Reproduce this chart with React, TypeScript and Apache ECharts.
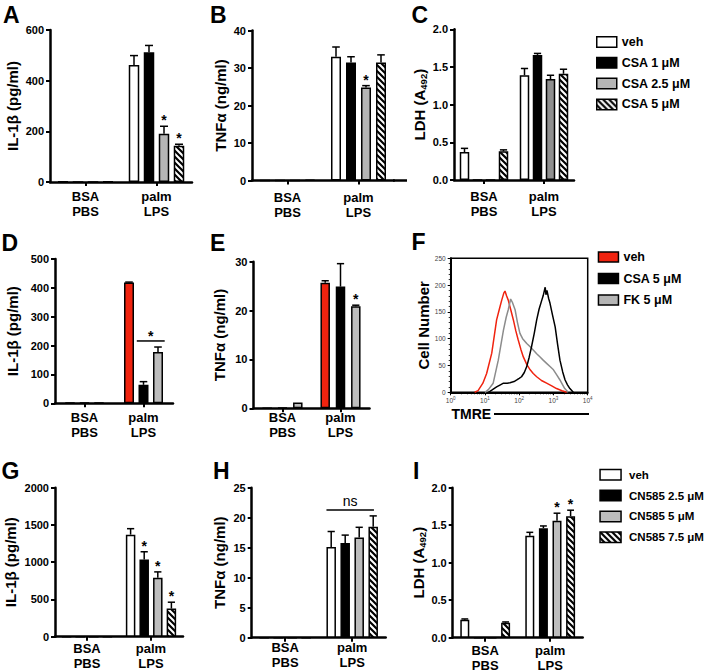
import React, { useEffect, useRef } from 'react';
import * as echarts from 'echarts';

const FONT = "'Liberation Sans', Arial, Helvetica, sans-serif";

// ---------- categories & names ----------
const cats = ['BSA\nPBS', 'palm\nLPS'];
const csaNames = ['veh', 'CSA 1 μM', 'CSA 2.5 μM', 'CSA 5 μM'];
const fkNames = ['veh', 'CSA 5 μM', 'FK 5 μM'];
const cnNames = ['veh', 'CN585 2.5 μM', 'CN585 5 μM', 'CN585 7.5 μM'];

// ---------- data: [BSA, palm] per treatment ----------
// A: IL-1β (pg/ml), CSA
const aMean = [[2, 462], [0, 512], [0, 190], [2, 143]];
const aErr = [[0, 37], [0, 27], [0, 30], [0, 6]];
const aStar = [[0, 0], [0, 0], [0, 1], [0, 1]];
// B: TNFα (ng/ml), CSA
const bMean = [[0, 33], [0, 31.5], [0, 24.8], [0.2, 31.5]];
const bErr = [[0, 2.6], [0, 1.5], [0, 0.5], [0, 2]];
const bStar = [[0, 0], [0, 0], [0, 1], [0, 0]];
// C: LDH (A492), CSA
const cMean = [[0.37, 1.39], [0, 1.66], [0, 1.34], [0.38, 1.41]];
const cErr = [[0.05, 0.09], [0, 0.02], [0, 0.05], [0.02, 0.06]];
const cStar = [[0, 0], [0, 0], [0, 0], [0, 0]];
// D: IL-1β (pg/ml), veh / CSA 5 / FK 5
const dMean = [[2, 419], [2, 64], [2, 178]];
const dErr = [[0, 1], [0, 11], [0, 17]];
const dStar = [[0, 0], [0, 0], [0, 0]];
const dSig = [[1, 1, 2, 216]];
// E: TNFα (ng/ml), veh / CSA 5 / FK 5
const eMean = [[0, 25.7], [0.1, 24.9], [1.2, 20.9]];
const eErr = [[0, 0.4], [0, 4.7], [0, 0.2]];
const eStar = [[0, 0], [0, 0], [0, 1]];
// F: TMRE histograms [fluorescence, cell number]
const fVeh = [[5, 0], [6.3, 3], [8.7, 17], [11.2, 35], [15.8, 73], [21.9, 135], [26.3, 155], [30.9, 172], [35.5, 185], [38.5, 189], [42.7, 180], [47.9, 172], [56.2, 155], [67.6, 135], [79.4, 115], [93.3, 98], [112, 80], [132, 66], [166, 52], [209, 42], [257, 35], [324, 29], [447, 22], [631, 17], [891, 12], [1230, 7], [1778, 3], [2455, 0]];
const fCsa = [[12.6, 0], [15.8, 4], [21.9, 10], [28.2, 14], [34.7, 17], [44.7, 17], [53.7, 18], [70.8, 20], [85.1, 23], [100, 26], [117, 29], [141, 37], [166, 48], [195, 65], [229, 85], [275, 110], [324, 135], [380, 155], [457, 172], [501, 180], [562, 194], [575, 196], [603, 182], [646, 190], [724, 175], [794, 166], [933, 145], [1122, 122], [1318, 90], [1549, 60], [1862, 38], [2188, 23], [2570, 14], [3020, 7], [3802, 0]];
const fFk = [[10, 0], [12.6, 5], [17.4, 17], [24.5, 60], [29.5, 90], [34.7, 116], [41.7, 140], [47.9, 154], [56.2, 174], [63.1, 168], [75.9, 154], [89.1, 130], [105, 110], [126, 100], [166, 91], [209, 85], [257, 79], [324, 72], [407, 66], [501, 60], [631, 54], [794, 48], [1000, 42], [1259, 32], [1549, 23], [1820, 15], [2138, 7], [2692, 0]];
const fXTicks = [1, 10, 100, 1000, 10000];
// G: IL-1β (pg/ml), CN585
const gMean = [[0, 1370], [0, 1035], [0, 790], [0, 378]];
const gErr = [[0, 80], [0, 105], [0, 80], [0, 85]];
const gStar = [[0, 0], [0, 1], [0, 1], [0, 1]];
// H: TNFα (ng/ml), CN585
const hMean = [[0, 15.1], [0, 15.8], [0, 16.7], [0, 18.5]];
const hErr = [[0, 2.6], [0, 1.3], [0, 1.7], [0, 1.8]];
const hStar = [[0, 0], [0, 0], [0, 0], [0, 0]];
const hSig = [[1, 0, 3, 21.3]];
// I: LDH (A492), CN585
const iMean = [[0.24, 1.36], [0, 1.46], [0, 1.56], [0.2, 1.62]];
const iErr = [[0.01, 0.045], [0, 0.03], [0, 0.1], [0.01, 0.08]];
const iStar = [[0, 0], [0, 0], [0, 1], [0, 1]];

// ---------- styling ----------
const RED = '#f0230f';

function makeHatch(): any {
  const s = 6;
  const c = document.createElement('canvas');
  c.width = s;
  c.height = s;
  const ctx = c.getContext('2d') as CanvasRenderingContext2D;
  ctx.fillStyle = '#fff';
  ctx.fillRect(0, 0, s, s);
  ctx.strokeStyle = '#000';
  ctx.lineWidth = 2.2;
  ctx.beginPath();
  [-s, 0, s].forEach((k) => {
    ctx.moveTo(k - 1, -1);
    ctx.lineTo(k + s + 1, s + 1);
  });
  ctx.stroke();
  return { image: c, repeat: 'repeat', imageWidth: s, imageHeight: s };
}

const panels: any[] = [
  { id: 'A', left: 50, top: 30, width: 142, height: 152, max: 600, interval: 200, yName: 'IL-1β (pg/ml)', nameGap: 13, xMargin: 7, w: 10.5, pitch: 15, mean: aMean, err: aErr, star: aStar, names: csaNames, suffix: '', colors: ['#fff', '#000', '#b5b5b5', '#fff'], hatchIdx: 3 },
  { id: 'B', left: 252, top: 30.5, width: 142, height: 150, max: 40, interval: 10, yName: 'TNFα (ng/ml)', nameGap: 22, xMargin: 9, w: 10, pitch: 15, mean: bMean, err: bErr, star: bStar, names: csaNames, suffix: '#B', colors: ['#fff', '#000', '#b5b5b5', '#fff'], hatchIdx: 3 },
  { id: 'C', left: 454, top: 29.3, width: 120, height: 150.7, max: 2, interval: 0.5, yName: 'LDH (A{sub|492})', nameGap: 21, xMargin: 9, w: 9.5, pitch: 13, mean: cMean, err: cErr, star: cStar, names: csaNames, suffix: '#C', colors: ['#fff', '#000', '#8f8f8f', '#fff'], hatchIdx: 3, dec: 1 },
  { id: 'D', left: 55, top: 259, width: 118, height: 144.3, max: 500, interval: 100, yName: 'IL-1β (pg/ml)', nameGap: 34, xMargin: 7, w: 10, pitch: 14.5, mean: dMean, err: dErr, star: dStar, names: fkNames, suffix: '#D', colors: [RED, '#000', '#bdbdbd'], hatchIdx: -1, sig: dSig, sigText: '*', sigPad: [1.7, 1.7] },
  { id: 'E', left: 253.5, top: 261.7, width: 116, height: 146.6, max: 30, interval: 10, yName: 'TNFα (ng/ml)', nameGap: 25, xMargin: 2, w: 9.5, pitch: 15.3, mean: eMean, err: eErr, star: eStar, names: fkNames, suffix: '#E', colors: [RED, '#000', '#bdbdbd'], hatchIdx: -1 },
  { id: 'F' },
  { id: 'G', left: 55, top: 487.7, width: 128, height: 149, max: 2000, interval: 500, yName: 'IL-1β (pg/ml)', nameGap: 36, xMargin: 4, w: 9.5, pitch: 13.6, mean: gMean, err: gErr, star: gStar, names: cnNames, suffix: '#G', colors: ['#fff', '#000', '#bdbdbd', '#fff'], hatchIdx: 3 },
  { id: 'H', left: 251.7, top: 487.7, width: 134, height: 150, max: 25, interval: 5, yName: 'TNFα (ng/ml)', nameGap: 23.5, xMargin: 2, w: 9.5, pitch: 14, mean: hMean, err: hErr, star: hStar, names: cnNames, suffix: '#H', colors: ['#fff', '#000', '#bdbdbd', '#fff'], hatchIdx: 3, sig: hSig, sigText: 'ns', sigPad: [0, -4] },
  { id: 'I', left: 452.7, top: 487.7, width: 130, height: 150, max: 2, interval: 0.5, yName: 'LDH (A{sub|492})', nameGap: 21, xMargin: 5, w: 9, pitch: 13.6, mean: iMean, err: iErr, star: iStar, names: cnNames, suffix: '#I', colors: ['#fff', '#000', '#bdbdbd', '#fff'], hatchIdx: 3, dec: 1 },
];

const F_GRID = { left: 450.7, top: 258.3, width: 137, height: 134 };

function errRenderer(n: number, w: number, pitch: number) {
  return (params: any, api: any) => {
    const cat = api.value(0), bi = api.value(1), v = api.value(2), e = api.value(3), star = api.value(4);
    const base = api.coord([cat, v]);
    const x = base[0] + (bi - (n - 1) / 2) * pitch;
    const top = api.coord([cat, v + e])[1];
    const children: any[] = [];
    if (e > 0) {
      children.push({ type: 'line', shape: { x1: x, y1: base[1], x2: x, y2: top }, style: { stroke: '#000', lineWidth: 1.5 } });
      children.push({ type: 'line', shape: { x1: x - w * 0.38, y1: top, x2: x + w * 0.38, y2: top }, style: { stroke: '#000', lineWidth: 1.5 } });
    }
    if (star) {
      children.push({ type: 'text', style: { text: '*', x, y: top - 6, align: 'center', verticalAlign: 'middle', font: `bold 14px ${FONT}`, fill: '#000' } });
    }
    return { type: 'group', children };
  };
}

function sigRenderer(n: number, w: number, pitch: number, label: string, pad: number[]) {
  return (params: any, api: any) => {
    const cat = api.value(0), b0 = api.value(1), b1 = api.value(2), v = api.value(3);
    const c = api.coord([cat, v]);
    const x0 = c[0] + (b0 - (n - 1) / 2) * pitch - w / 2 - pad[0];
    const x1 = c[0] + (b1 - (n - 1) / 2) * pitch + w / 2 + pad[1];
    const isStar = label === '*';
    return {
      type: 'group',
      children: [
        { type: 'line', shape: { x1: x0, y1: c[1], x2: x1, y2: c[1] }, style: { stroke: '#000', lineWidth: 1.5 } },
        {
          type: 'text',
          style: isStar
            ? { text: label, x: (x0 + x1) / 2, y: c[1] - 5, align: 'center', verticalAlign: 'middle', font: `bold 14px ${FONT}`, fill: '#000' }
            : { text: label, x: (x0 + x1) / 2, y: c[1] - 1.5, align: 'center', verticalAlign: 'bottom', font: `14px ${FONT}`, fill: '#000' },
        },
      ],
    };
  };
}

function buildOption() {
  const hatch = makeHatch();
  const grid: any[] = [];
  const xAxis: any[] = [];
  const yAxis: any[] = [];
  const series: any[] = [];

  panels.forEach((p, gi) => {
    if (p.id === 'F') {
      grid.push({ ...F_GRID, show: true, borderColor: '#000', borderWidth: 1.5, backgroundColor: 'transparent', outerBoundsMode: 'none', containLabel: false });
      xAxis.push({
        type: 'log', gridIndex: gi, min: fXTicks[0], max: fXTicks[fXTicks.length - 1], logBase: 10,
        axisLine: { show: true, lineStyle: { color: '#000', width: 2 } },
        axisTick: { show: true, length: 3, lineStyle: { color: '#000', width: 1 } },
        minorTick: { show: true, splitNumber: 9, length: 2, lineStyle: { color: '#000', width: 0.8 } },
        axisLabel: {
          color: '#444', fontSize: 6.5, margin: 4, fontFamily: FONT,
          formatter: (v: number) => '10{s|' + Math.round(Math.log10(v)) + '}',
          rich: { s: { fontSize: 4.5, verticalAlign: 'top', color: '#444', padding: [0, 0, 4, 0] } },
        },
        splitLine: { show: false },
      });
      yAxis.push({
        type: 'value', gridIndex: gi, min: 0, max: 250, interval: 50,
        axisLine: { show: true, lineStyle: { color: '#000', width: 2 } },
        axisTick: { show: true, length: 3, lineStyle: { color: '#000', width: 1 } },
        minorTick: { show: true, splitNumber: 5, length: 2, lineStyle: { color: '#000', width: 0.8 } },
        axisLabel: { color: '#444', fontSize: 6.5, margin: 5, fontFamily: FONT, formatter: (v: number) => String(v) },
        splitLine: { show: false },
        name: 'Cell Number', nameLocation: 'middle', nameGap: 17,
        nameTextStyle: { fontWeight: 'bold', fontSize: 15, color: '#000', fontFamily: FONT },
      });
      const lines = [
        { name: 'veh#F', data: fVeh, color: RED },
        { name: 'FK 5 μM#F', data: fFk, color: '#8c8c8c' },
        { name: 'CSA 5 μM#F', data: fCsa, color: '#000' },
      ];
      lines.forEach((l) => {
        series.push({
          type: 'line', name: l.name, xAxisIndex: gi, yAxisIndex: gi, data: l.data,
          showSymbol: false, symbol: 'none', lineStyle: { color: l.color, width: 1.5 }, itemStyle: { color: l.color }, z: 3,
        });
      });
      return;
    }
    grid.push({ left: p.left, top: p.top, width: p.width, height: p.height, outerBoundsMode: 'none', containLabel: false });
    xAxis.push({
      type: 'category', gridIndex: gi, data: cats,
      axisLine: { show: true, lineStyle: { color: '#000', width: 2.5 } },
      axisTick: { show: true, alignWithLabel: true, length: 4, lineStyle: { color: '#000', width: 2 } },
      axisLabel: { interval: 0, fontFamily: FONT, fontWeight: 'bold', fontSize: 13, lineHeight: 15, color: '#000', margin: p.xMargin },
      splitLine: { show: false },
    });
    yAxis.push({
      type: 'value', gridIndex: gi, min: 0, max: p.max, interval: p.interval,
      axisLine: { show: true, lineStyle: { color: '#000', width: 2.5 } },
      axisTick: { show: true, length: 4, lineStyle: { color: '#000', width: 2 } },
      axisLabel: {
        fontFamily: FONT, fontWeight: 'bold', fontSize: 11, color: '#000', margin: 6,
        formatter: p.dec ? (v: number) => v.toFixed(p.dec) : (v: number) => String(v),
      },
      splitLine: { show: false },
      name: p.yName, nameLocation: 'middle', nameGap: p.nameGap,
      nameTextStyle: {
        fontFamily: FONT, fontWeight: 'bold', fontSize: 15, color: '#000', lineHeight: 18,
        rich: { sub: { fontFamily: FONT, fontWeight: 'bold', fontSize: 9.5, color: '#000', verticalAlign: 'bottom', lineHeight: 18, padding: [0, 0, 0, 0] } },
      },
    });
    const n = p.mean.length;
    p.mean.forEach((vals: number[], k: number) => {
      const style: any = { color: k === p.hatchIdx ? hatch : p.colors[k], borderColor: '#000', borderWidth: 1.5 };
      series.push({
        type: 'bar', name: p.names[k] + p.suffix, xAxisIndex: gi, yAxisIndex: gi, data: vals,
        barWidth: p.w, barGap: ((p.pitch - p.w) / p.w) * 100 + '%',
        itemStyle: style, emphasis: { disabled: true }, z: 2,
      });
    });
    const errData: number[][] = [];
    p.mean.forEach((vals: number[], k: number) => {
      vals.forEach((v: number, c: number) => errData.push([c, k, v, p.err[k][c], p.star[k][c]]));
    });
    series.push({
      type: 'custom', name: '_err' + p.id, xAxisIndex: gi, yAxisIndex: gi, data: errData,
      encode: { x: 0, y: 2 }, renderItem: errRenderer(n, p.w, p.pitch), z: 5, silent: true,
    });
    if (p.sig) {
      series.push({
        type: 'custom', name: '_sig' + p.id, xAxisIndex: gi, yAxisIndex: gi, data: p.sig,
        encode: { x: 0, y: 3 }, renderItem: sigRenderer(n, p.w, p.pitch, p.sigText, p.sigPad), z: 5, silent: true,
      });
    }
  });

  const legendCommon = {
    orient: 'vertical', padding: 0, selectedMode: false, icon: 'rect',
    itemStyle: { borderColor: '#000', borderWidth: 1.5 },
    formatter: (name: string) => name.split('#')[0],
  };

  const letters = [
    ['A', 3, 3], ['B', 210, 3], ['C', 411.5, 3],
    ['D', 1.5, 231.5], ['E', 210, 231.5], ['F', 411.5, 230.5],
    ['G', 1.5, 459.8], ['H', 213, 459.8], ['I', 413, 459.8],
  ];
  const bGrid = panels[1];

  return {
    animation: false,
    backgroundColor: '#fff',
    textStyle: { fontFamily: FONT },
    grid, xAxis, yAxis, series,
    legend: [
      {
        ...legendCommon, left: 596, top: 35.5, itemWidth: 20, itemHeight: 10.5, itemGap: 7.8,
        textStyle: { fontFamily: FONT, fontWeight: 'bold', fontSize: 12.5, color: '#000' },
        data: csaNames,
      },
      {
        ...legendCommon, left: 597.7, top: 250.5, itemWidth: 20, itemHeight: 10, itemGap: 8.5,
        textStyle: { fontFamily: FONT, fontWeight: 'bold', fontSize: 12.5, color: '#000' },
        data: [
          { name: 'veh#F', itemStyle: { color: RED } },
          { name: 'CSA 5 μM#F', itemStyle: { color: '#000' } },
          { name: 'FK 5 μM#F', itemStyle: { color: '#b5b5b5' } },
        ],
      },
      {
        ...legendCommon, left: 599.3, top: 468.8, itemWidth: 21, itemHeight: 10.5, itemGap: 8.8,
        textStyle: { fontFamily: FONT, fontWeight: 'bold', fontSize: 11.5, color: '#000', padding: [0, 0, 0, 3] },
        data: cnNames.map((nm, k) => (k === 0 ? 'veh#G' : nm + '#G')),
      },
    ],
    graphic: [
      ...letters.map((l) => ({
        type: 'text', x: l[1], y: l[2], silent: true,
        style: { text: l[0], font: `bold 23px ${FONT}`, fill: '#000', verticalAlign: 'top' },
      })),
      {
        type: 'line', silent: true,
        shape: { x1: bGrid.left + bGrid.width - 1, y1: bGrid.top + bGrid.height, x2: 407, y2: bGrid.top + bGrid.height },
        style: { stroke: '#000', lineWidth: 2.5 },
      },
      {
        type: 'text', x: 451.5, y: 414, silent: true,
        style: { text: 'TMRE', font: `bold 14px ${FONT}`, fill: '#000', verticalAlign: 'middle' },
      },
      {
        type: 'line', silent: true,
        shape: { x1: 494, y1: 414, x2: 589, y2: 414 },
        style: { stroke: '#000', lineWidth: 2 },
      },
    ],
  };
}

export default function App() {
  const ref = useRef<HTMLDivElement>(null);
  useEffect(() => {
    if (!ref.current) return;
    const chart = echarts.init(ref.current, null, { renderer: 'svg' });
    chart.setOption(buildOption() as any);
    return () => chart.dispose();
  }, []);
  return <div ref={ref} style={{ position: 'absolute', left: 0, top: 0, width: 713, height: 672 }} />;
}
